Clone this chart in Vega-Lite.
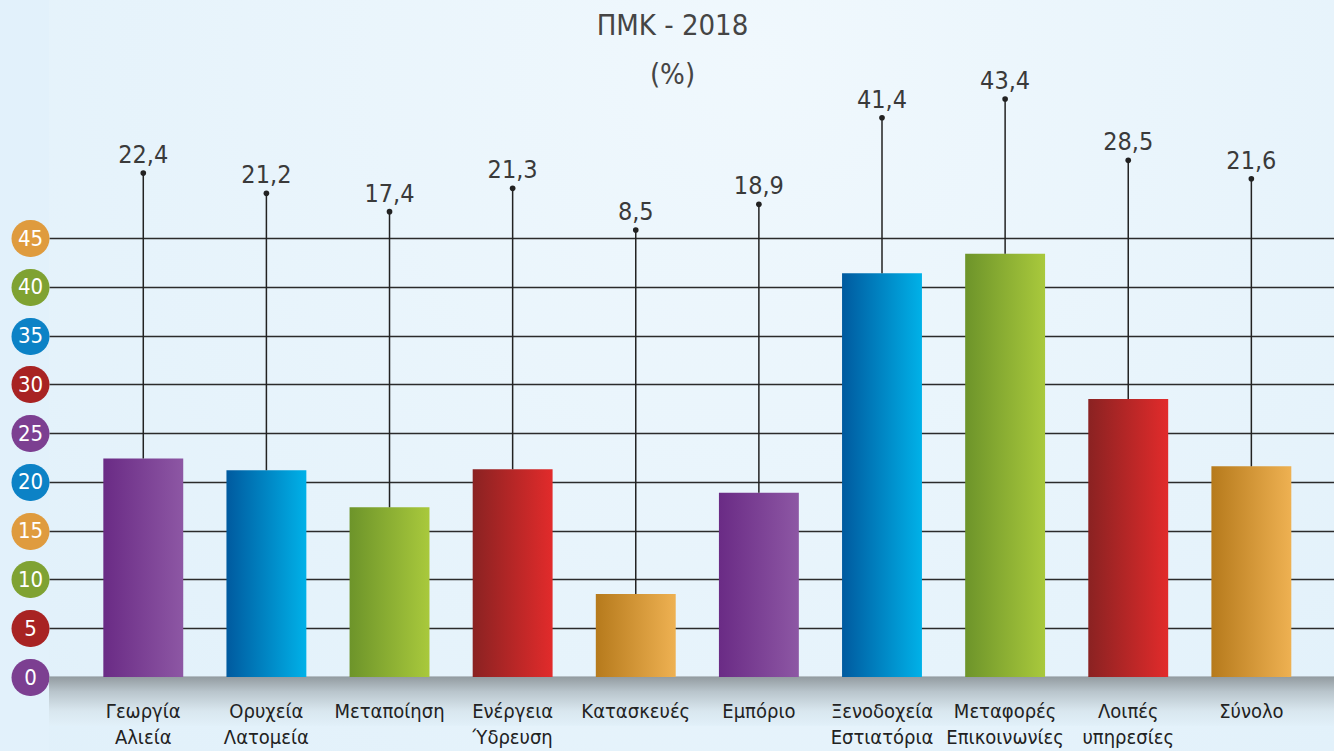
{
  "$schema": "https://vega.github.io/schema/vega-lite/v6.json",
  "width": 1285,
  "height": 751,
  "autosize": {"type": "none"},
  "padding": {"left": 49, "top": 0, "right": 0, "bottom": 0},
  "background": "#e2f1fb",
  "config": {
    "locale": {"number": {"decimal": ",", "thousands": ".", "grouping": [3], "currency": ["", " €"]}},
    "view": {"stroke": null, "fill": {"gradient": "radial", "x1": 0.55, "y1": 0.25, "r1": 0, "x2": 0.55, "y2": 0.25, "r2": 0.8, "stops": [{"offset": 0, "color": "#f0f8fd"}, {"offset": 1, "color": "#e0f0fa"}]}},
    "font": "Liberation Sans Narrow, DejaVu Sans Condensed, Roboto Condensed, Roboto, sans-serif"
  },
  "title": {
    "text": "ΠΜΚ - 2018",
    "subtitle": "(%)",
    "anchor": "middle",
    "frame": "bounds",
    "offset": -90,
    "fontSize": 29,
    "subtitleFontSize": 29,
    "fontWeight": "normal",
    "color": "#454545",
    "subtitleColor": "#454545",
    "subtitlePadding": 20,
    "font": "Liberation Sans Narrow, DejaVu Sans Condensed, Roboto Condensed, Roboto, sans-serif",
    "subtitleFont": "Liberation Sans Narrow, DejaVu Sans Condensed, Roboto Condensed, Roboto, sans-serif"
  },
  "data": {
    "values": [
      {"sector": "Γεωργία Αλιεία", "value": 22.4, "callout": 51.66},
      {"sector": "Ορυχεία Λατομεία", "value": 21.2, "callout": 49.58},
      {"sector": "Μεταποίηση", "value": 17.4, "callout": 47.7},
      {"sector": "Ενέργεια Ύδρευση", "value": 21.3, "callout": 50.09},
      {"sector": "Κατασκευές", "value": 8.5, "callout": 45.82},
      {"sector": "Εμπόριο", "value": 18.9, "callout": 48.45},
      {"sector": "Ξενοδοχεία Εστιατόρια", "value": 41.4, "callout": 57.33},
      {"sector": "Μεταφορές Επικοινωνίες", "value": 43.4, "callout": 59.25},
      {"sector": "Λοιπές υπηρεσίες", "value": 28.5, "callout": 52.96},
      {"sector": "Σύνολο", "value": 21.6, "callout": 51.08}
    ]
  },
  "layer": [
    {
      "data": {"values": [{}]},
      "mark": {"type": "rect", "fill": {"gradient": "linear", "x1": 0, "y1": 0, "x2": 0, "y2": 1, "stops": [{"offset": 0, "color": "#939ca1"}, {"offset": 0.3, "color": "#b9c5cc"}, {"offset": 0.7, "color": "#d9e7ef"}, {"offset": 1, "color": "#e1f0f9"}]}},
      "encoding": {
        "y": {"datum": 0, "type": "quantitative"},
        "y2": {"datum": -5}
      }
    },
    {
      "mark": {"type": "bar", "color": {"gradient": "linear", "x1": 0, "y1": 0, "x2": 1, "y2": 0, "stops": [{"offset": 0, "color": "#6a2b85"}, {"offset": 1, "color": "#8d57a4"}]}},
      "transform": [{"filter": {"field": "sector", "oneOf": ["Γεωργία Αλιεία", "Εμπόριο"]}}],
      "encoding": {
        "x": {
          "field": "sector", "type": "nominal", "sort": null,
          "scale": {"domain": ["Γεωργία Αλιεία", "Ορυχεία Λατομεία", "Μεταποίηση", "Ενέργεια Ύδρευση", "Κατασκευές", "Εμπόριο", "Ξενοδοχεία Εστιατόρια", "Μεταφορές Επικοινωνίες", "Λοιπές υπηρεσίες", "Σύνολο"], "paddingInner": 0.351, "paddingOuter": 0.394, "align": 0.56},
          "axis": {
            "title": null, "orient": "bottom", "offset": -74, "domain": false, "ticks": false, "grid": false,
            "labelAngle": 0, "labelFontSize": 20, "labelColor": "#222222", "labelPadding": 24, "labelBaseline": "top", "labelLineHeight": 26,
            "labelExpr": "split(datum.label, ' ')", "labelOverlap": false, "labelLimit": 0, "zindex": 2
          }
        },
        "y": {
          "field": "value", "type": "quantitative",
          "scale": {"domain": [-7.585, 69.4], "nice": false, "zero": false},
          "axis": {
            "title": null, "values": [0, 5, 10, 15, 20, 25, 30, 35, 40, 45],
            "domain": false, "grid": true, "gridColor": "#2b2b2b", "gridWidth": 1.5,
            "ticks": true, "tickSize": 1, "tickWidth": 37, "tickCap": "round",
            "tickColor": {"condition": [
              {"test": "datum.value == 0 || datum.value == 25", "value": "#7c3f91"},
              {"test": "datum.value == 5 || datum.value == 30", "value": "#a82323"},
              {"test": "datum.value == 10 || datum.value == 40", "value": "#7fa232"},
              {"test": "datum.value == 20 || datum.value == 35", "value": "#0c82c6"}
            ], "value": "#df9b3e"},
            "labelColor": "#ffffff", "labelFontSize": 22, "labelAlign": "center", "labelBaseline": "middle",
            "labelPadding": -0.5, "offset": 18.5, "labelOverlap": false, "labelBound": false, "labelFlush": false, "zindex": 0
          }
        }
      }
    },
    {
      "mark": {"type": "bar", "color": {"gradient": "linear", "x1": 0, "y1": 0, "x2": 1, "y2": 0, "stops": [{"offset": 0, "color": "#005a9f"}, {"offset": 1, "color": "#00b1e8"}]}},
      "transform": [{"filter": {"field": "sector", "oneOf": ["Ορυχεία Λατομεία", "Ξενοδοχεία Εστιατόρια"]}}],
      "encoding": {"x": {"field": "sector", "type": "nominal", "sort": null}, "y": {"field": "value", "type": "quantitative"}}
    },
    {
      "mark": {"type": "bar", "color": {"gradient": "linear", "x1": 0, "y1": 0, "x2": 1, "y2": 0, "stops": [{"offset": 0, "color": "#6d942a"}, {"offset": 1, "color": "#a9c93c"}]}},
      "transform": [{"filter": {"field": "sector", "oneOf": ["Μεταποίηση", "Μεταφορές Επικοινωνίες"]}}],
      "encoding": {"x": {"field": "sector", "type": "nominal", "sort": null}, "y": {"field": "value", "type": "quantitative"}}
    },
    {
      "mark": {"type": "bar", "color": {"gradient": "linear", "x1": 0, "y1": 0, "x2": 1, "y2": 0, "stops": [{"offset": 0, "color": "#8a2222"}, {"offset": 1, "color": "#e22b2b"}]}},
      "transform": [{"filter": {"field": "sector", "oneOf": ["Ενέργεια Ύδρευση", "Λοιπές υπηρεσίες"]}}],
      "encoding": {"x": {"field": "sector", "type": "nominal", "sort": null}, "y": {"field": "value", "type": "quantitative"}}
    },
    {
      "mark": {"type": "bar", "color": {"gradient": "linear", "x1": 0, "y1": 0, "x2": 1, "y2": 0, "stops": [{"offset": 0, "color": "#b67a1c"}, {"offset": 1, "color": "#eeb152"}]}},
      "transform": [{"filter": {"field": "sector", "oneOf": ["Κατασκευές", "Σύνολο"]}}],
      "encoding": {"x": {"field": "sector", "type": "nominal", "sort": null}, "y": {"field": "value", "type": "quantitative"}}
    },
    {
      "mark": {"type": "rule", "color": "#222222", "strokeWidth": 1.5},
      "encoding": {
        "x": {"field": "sector", "type": "nominal", "sort": null},
        "y": {"field": "value", "type": "quantitative"},
        "y2": {"field": "callout"}
      }
    },
    {
      "mark": {"type": "point", "filled": true, "color": "#222222", "opacity": 1, "size": 32},
      "encoding": {
        "x": {"field": "sector", "type": "nominal", "sort": null},
        "y": {"field": "callout", "type": "quantitative"}
      }
    },
    {
      "mark": {"type": "text", "color": "#3a3a3a", "fontSize": 25, "baseline": "alphabetic", "align": "center", "dy": -10},
      "encoding": {
        "x": {"field": "sector", "type": "nominal", "sort": null},
        "y": {"field": "callout", "type": "quantitative"},
        "text": {"field": "value", "type": "quantitative", "format": ".1f"}
      }
    }
  ]
}
